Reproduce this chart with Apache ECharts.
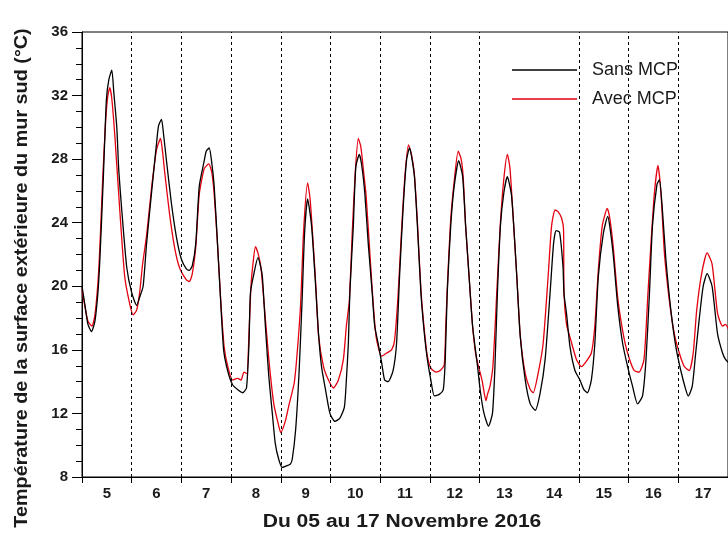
<!DOCTYPE html>
<html>
<head>
<meta charset="utf-8">
<script src="https://cdn.jsdelivr.net/npm/echarts@6/dist/echarts.min.js"></script>
<style>
  html, body { margin: 0; padding: 0; background: #fff; }
  #chart { width: 728px; height: 537px; }
</style>
</head>
<body>
<div id="chart"></div>
<script>
// Day labels shown under each daily band (05 -> 17 November 2016)
const dayLabels = ['5', '6', '7', '8', '9', '10', '11', '12', '13', '14', '15', '16', '17'];

// Midnight boundaries drawn as dashed separators
const dayBoundaries = [6, 7, 8, 9, 10, 11, 12, 13, 15, 16, 17];

// Y axis range (°C)
const yMin = 8, yMax = 36, yStep = 4;

// Sans MCP: time (day of November, decimal) and surface temperature (°C)
const sansTime = [
  5.00, 5.06, 5.12, 5.19, 5.26, 5.32, 5.36, 5.43, 5.49, 5.54, 5.60, 5.64, 5.70, 5.74, 5.80, 5.90,
  6.00, 6.10, 6.16, 6.23, 6.30, 6.40, 6.50, 6.54, 6.60, 6.64, 6.70, 6.80, 6.90,
  7.00, 7.10, 7.16, 7.22, 7.29, 7.36, 7.46, 7.50, 7.56, 7.61, 7.66, 7.73, 7.79, 7.85, 7.93,
  8.03, 8.13, 8.23, 8.31, 8.36, 8.39, 8.46, 8.54, 8.59, 8.63, 8.69, 8.76, 8.83, 8.89, 8.96,
  9.03, 9.11, 9.19, 9.23, 9.30, 9.37, 9.43, 9.48, 9.54, 9.62, 9.69, 9.76, 9.82, 9.90, 9.99,
  10.09, 10.19, 10.28, 10.32, 10.36, 10.39, 10.46, 10.51, 10.58, 10.63, 10.69, 10.76, 10.84, 10.89, 10.96,
  11.03, 11.09, 11.16, 11.26, 11.33, 11.39, 11.46, 11.53, 11.59, 11.63, 11.69, 11.75, 11.82, 11.89, 11.95,
  12.02, 12.09, 12.19, 12.27, 12.31, 12.35, 12.42, 12.49, 12.58, 12.66, 12.72, 12.79, 12.86, 12.96,
  13.02, 13.09, 13.18, 13.26, 13.31, 13.36, 13.42, 13.49, 13.56, 13.64, 13.68, 13.75, 13.82, 13.92,
  14.02, 14.12, 14.22, 14.32, 14.42, 14.49, 14.54, 14.61, 14.68, 14.70, 14.75, 14.82, 14.92,
  15.02, 15.10, 15.17, 15.25, 15.32, 15.39, 15.49, 15.58, 15.62, 15.69, 15.78, 15.88, 15.98,
  16.08, 16.18, 16.28, 16.35, 16.42, 16.48, 16.57, 16.62, 16.68, 16.75, 16.85, 16.95,
  17.05, 17.15, 17.20, 17.28, 17.35, 17.42, 17.50, 17.58, 17.68, 17.79, 17.89, 17.95, 18.01
];
const sansTemp = [
  20.0, 18.8, 17.6, 17.15, 17.8, 19.6, 21.7, 26.9, 31.7, 33.0, 33.6, 32.2, 30.0, 27.3, 24.8, 21.2,
  19.6, 18.8, 19.3, 20.0, 22.7, 25.9, 29.0, 30.1, 30.5, 29.6, 27.9, 25.2, 23.1,
  21.7, 21.1, 21.0, 21.3, 22.7, 26.3, 27.9, 28.5, 28.7, 27.8, 26.3, 22.5, 19.1, 16.0, 14.7,
  13.8, 13.5, 13.3, 13.6, 16.4, 19.6, 20.8, 21.8, 21.3, 20.6, 17.5, 14.3, 12.0, 10.1, 9.1,
  8.6, 8.7, 8.8, 9.1, 11.0, 14.7, 19.2, 23.4, 25.5, 23.8, 20.6, 17.0, 14.95, 13.5, 12.0,
  11.5, 11.7, 12.4, 14.1, 16.4, 19.6, 23.8, 27.5, 28.3, 27.6, 25.9, 22.7, 19.6, 17.5, 16.4,
  15.2, 14.1, 14.0, 14.7, 16.4, 20.6, 24.8, 27.9, 28.7, 28.2, 26.9, 23.8, 19.6, 17.0, 15.4,
  14.1, 13.1, 13.2, 13.5, 15.4, 19.6, 23.8, 26.3, 27.9, 26.9, 23.8, 20.6, 17.5, 14.95,
  13.3, 12.0, 11.2, 12.0, 14.95, 19.6, 23.8, 25.9, 26.9, 25.8, 24.2, 20.6, 16.8, 14.1,
  12.6, 12.2, 13.3, 15.4, 19.6, 22.7, 23.5, 23.4, 21.2, 19.5, 18.3, 16.2, 14.7,
  14.1, 13.5, 13.3, 14.1, 16.4, 20.6, 23.3, 24.4, 23.8, 22.0, 18.8, 16.4, 14.95,
  13.7, 12.6, 13.1, 15.4, 19.6, 23.8, 26.4, 26.7, 24.8, 21.7, 18.5, 16.2,
  14.7, 13.5, 13.1, 13.7, 15.8, 17.9, 20.0, 20.8, 20.0, 17.0, 15.8, 15.4, 15.2
];

// Avec MCP: time (day of November, decimal) and surface temperature (°C)
const avecTime = [
  5.00, 5.06, 5.12, 5.20, 5.26, 5.32, 5.36, 5.42, 5.48, 5.52, 5.56, 5.60, 5.66, 5.76, 5.86, 5.96,
  6.03, 6.10, 6.16, 6.22, 6.30, 6.40, 6.50, 6.58, 6.62, 6.66, 6.76, 6.86, 6.96,
  7.10, 7.16, 7.22, 7.29, 7.36, 7.46, 7.55, 7.61, 7.66, 7.73, 7.79, 7.86, 7.93,
  8.03, 8.13, 8.20, 8.26, 8.32, 8.36, 8.40, 8.44, 8.49, 8.54, 8.60, 8.66, 8.76, 8.86, 8.96,
  9.00, 9.09, 9.17, 9.27, 9.33, 9.40, 9.46, 9.54, 9.59, 9.65, 9.71, 9.76, 9.86, 9.96,
  10.06, 10.16, 10.26, 10.32, 10.38, 10.44, 10.50, 10.56, 10.61, 10.66, 10.72, 10.84, 10.92,
  11.03, 11.13, 11.23, 11.29, 11.36, 11.43, 11.50, 11.57, 11.63, 11.69, 11.75, 11.82, 11.89, 11.95,
  12.02, 12.12, 12.21, 12.29, 12.32, 12.36, 12.42, 12.49, 12.57, 12.63, 12.67, 12.72, 12.79, 12.86, 12.92, 12.98,
  13.05, 13.13, 13.16, 13.21, 13.27, 13.35, 13.42, 13.49, 13.56, 13.61, 13.66, 13.75, 13.82, 13.92,
  14.02, 14.08, 14.19, 14.28, 14.38, 14.45, 14.52, 14.58, 14.65, 14.69, 14.70, 14.75, 14.82, 14.95,
  15.05, 15.13, 15.25, 15.32, 15.39, 15.47, 15.57, 15.62, 15.69, 15.78, 15.88, 15.98,
  16.11, 16.21, 16.31, 16.39, 16.45, 16.52, 16.59, 16.65, 16.72, 16.82, 16.92,
  17.02, 17.12, 17.22, 17.30, 17.37, 17.47, 17.58, 17.68, 17.79, 17.89, 17.95, 18.01
];
const avecTemp = [
  19.8, 18.7, 17.8, 17.5, 18.2, 20.2, 22.5, 27.0, 30.6, 32.0, 32.5, 31.8, 29.5, 24.8, 20.6, 18.9,
  18.2, 18.5, 19.6, 21.4, 23.2, 26.2, 28.6, 29.3, 28.5, 27.3, 24.6, 22.5, 21.2,
  20.4, 20.3, 20.8, 22.5, 25.8, 27.4, 27.7, 27.2, 25.8, 22.5, 19.2, 16.2, 15.0,
  14.1, 14.2, 14.1, 14.6, 14.5, 17.0, 20.0, 21.4, 22.5, 22.1, 21.2, 19.1, 15.4, 12.6, 11.2,
  10.8, 11.5, 12.6, 13.9, 15.8, 18.9, 23.5, 26.5, 25.5, 22.8, 19.8, 16.9, 14.95, 14.1,
  13.6, 14.1, 15.4, 17.5, 19.1, 23.5, 27.2, 29.3, 28.8, 27.4, 25.6, 19.8, 16.8,
  15.6, 15.8, 16.0, 16.6, 19.4, 23.5, 27.0, 28.9, 28.3, 27.0, 24.0, 19.8, 17.2, 15.6,
  14.85, 14.6, 14.7, 15.05, 17.5, 20.5, 24.2, 26.6, 28.5, 28.0, 26.9, 23.8, 20.6, 17.5, 15.8, 14.95,
  14.1, 12.8, 13.2, 13.7, 15.0, 19.8, 24.0, 26.8, 28.3, 27.5, 25.2, 20.6, 16.9, 14.5,
  13.5, 13.3, 14.7, 16.4, 20.6, 23.8, 24.8, 24.7, 24.3, 23.6, 19.6, 17.6, 16.8, 15.4,
  14.95, 15.2, 15.8, 17.5, 21.0, 23.8, 24.9, 24.3, 22.5, 19.3, 17.2, 15.8,
  14.7, 14.6, 15.4, 19.6, 22.7, 25.9, 27.6, 25.9, 22.1, 19.1, 17.0,
  15.8, 14.95, 14.7, 15.8, 18.5, 20.8, 22.1, 21.4, 18.3, 17.5, 17.6, 17.3
];

const pairs = (t, v) => t.map((x, i) => [x, v[i]]);

const chart = echarts.init(document.getElementById('chart'), null, { renderer: 'canvas' });

const fontFamily = '"Liberation Sans", Arial, sans-serif';
const blackLine = '#000000';
const redLine = '#e3000f';

chart.setOption({
  backgroundColor: '#ffffff',
  animation: false,
  grid: {
    left: 82, right: -3, top: 32, bottom: 60,
    show: true, borderColor: '#000', borderWidth: 1, backgroundColor: 'transparent'
  },
  legend: {
    orient: 'vertical',
    left: 512, top: 61, padding: 0,
    itemWidth: 65, itemHeight: 1.4, itemGap: 11,
    icon: 'rect',
    textStyle: { fontFamily, fontSize: 18, color: '#1a1a1a', padding: [0, 0, 0, 10] },
    data: ['Sans MCP', 'Avec MCP']
  },
  xAxis: [
    {
      type: 'value', min: 5, max: 18, interval: 1,
      axisLine: { show: true, lineStyle: { color: '#000', width: 1 } },
      axisTick: { show: false }, axisLabel: { show: false }, splitLine: { show: false }
    },
    {
      type: 'category', data: dayLabels, boundaryGap: true, position: 'bottom',
      axisLine: { show: false },
      axisTick: {
        show: true, length: 6, inside: false,
        interval: (index) => index !== 9,
        lineStyle: { color: '#000', width: 1 }
      },
      axisLabel: { fontFamily, fontWeight: 'bold', fontSize: 15, color: '#1a1a1a', margin: 9 },
      splitLine: { show: false }
    }
  ],
  yAxis: {
    type: 'value', min: yMin, max: yMax, interval: yStep,
    axisLine: { show: true, lineStyle: { color: '#000', width: 1 } },
    axisTick: { show: true, length: 10, lineStyle: { color: '#000' } },
    minorTick: { show: true, splitNumber: 4, length: 6, lineStyle: { color: '#000' } },
    axisLabel: { fontFamily, fontWeight: 'bold', fontSize: 15, color: '#1a1a1a', margin: 14 },
    splitLine: { show: false }
  },
  series: [
    {
      name: 'Sans MCP', type: 'line', xAxisIndex: 0,
      data: pairs(sansTime, sansTemp),
      showSymbol: false, symbol: 'none', smooth: 0.2,
      lineStyle: { color: blackLine, width: 1.3 },
      itemStyle: { color: blackLine },
      z: 3,
      markLine: {
        silent: true, symbol: 'none', label: { show: false },
        lineStyle: { color: '#000', width: 1, type: [3, 3] },
        data: dayBoundaries.map(d => ({ xAxis: d }))
      }
    },
    {
      name: 'Avec MCP', type: 'line', xAxisIndex: 0,
      data: pairs(avecTime, avecTemp),
      showSymbol: false, symbol: 'none', smooth: 0.2,
      lineStyle: { color: redLine, width: 1.3 },
      itemStyle: { color: redLine },
      z: 2
    }
  ],
  graphic: [
    {
      type: 'text', x: 22, y: 278, rotation: Math.PI / 2, scaleX: 1.1,
      style: {
        text: 'Température de la surface extérieure du mur sud (°C)',
        font: 'bold 18px "Liberation Sans", Arial, sans-serif',
        fill: '#1a1a1a', align: 'center', verticalAlign: 'middle'
      }
    },
    {
      type: 'text', x: 402, y: 522, scaleX: 1.17,
      style: {
        text: 'Du 05 au 17 Novembre 2016',
        font: 'bold 18px "Liberation Sans", Arial, sans-serif',
        fill: '#1a1a1a', align: 'center', verticalAlign: 'middle'
      }
    }
  ]
});
</script>
</body>
</html>
